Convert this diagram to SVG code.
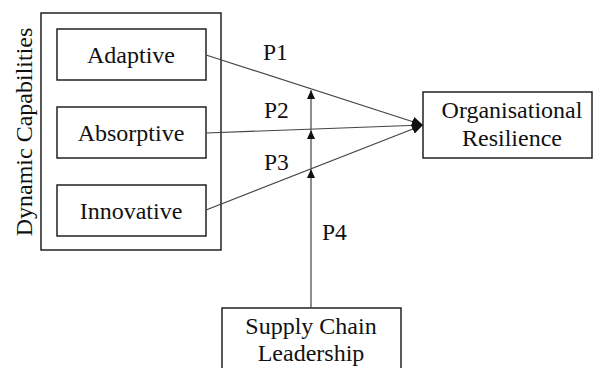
<svg xmlns="http://www.w3.org/2000/svg" width="594" height="368" viewBox="0 0 594 368">
<style>
.box{fill:#fff;stroke:#222;stroke-width:1.5}
.t{font-size:24px;fill:#111;text-anchor:middle}
.lbl{font-size:23.5px;fill:#111}
.ln{stroke:#444;stroke-width:1.2;fill:none}
</style>
<defs>
<marker id="big" markerWidth="12" markerHeight="10" refX="11" refY="5" orient="auto" markerUnits="userSpaceOnUse"><path d="M0,0 L11,5 L0,10 Z" fill="#111"/></marker>
<marker id="small" markerWidth="8" markerHeight="10" refX="9" refY="4" orient="auto" markerUnits="userSpaceOnUse"><path d="M0,0 L9,4 L0,8 Z" fill="#111"/></marker>
</defs>
<rect width="594" height="368" fill="#fff"/>
<g font-family="'Liberation Serif', 'Times New Roman', serif">
<g id="dynamic-capabilities">
<rect class="box" x="41" y="13" width="180" height="237"/>
<text class="t" transform="translate(32,132) rotate(-90)" x="0" y="0" font-size="23.5">Dynamic Capabilities</text>
</g>
<g id="adaptive">
<rect class="box" x="57" y="29" width="149" height="51"/>
<text class="t" x="131" y="63">Adaptive</text>
</g>
<g id="absorptive">
<rect class="box" x="57" y="107" width="149" height="51"/>
<text class="t" x="131" y="141">Absorptive</text>
</g>
<g id="innovative">
<rect class="box" x="57" y="185" width="149" height="51"/>
<text class="t" x="131" y="219">Innovative</text>
</g>
<g id="organisational-resilience">
<rect class="box" x="423" y="92" width="169" height="66"/>
<text class="t" x="512" y="118">Organisational</text>
<text class="t" x="512" y="146">Resilience</text>
</g>
<g id="supply-chain-leadership">
<rect class="box" x="222" y="308" width="179" height="70"/>
<text class="t" x="311" y="334">Supply Chain</text>
<text class="t" x="311" y="361">Leadership</text>
</g>
<g id="connectors">
<line class="ln" x1="206" y1="55" x2="423" y2="125" marker-end="url(#big)"/>
<line class="ln" x1="206" y1="133" x2="423" y2="125" marker-end="url(#big)"/>
<line class="ln" x1="206" y1="210" x2="423" y2="125" marker-end="url(#big)"/>
<line class="ln" x1="311" y1="308" x2="311" y2="169" marker-end="url(#small)"/>
<line class="ln" x1="311" y1="169" x2="311" y2="130" marker-end="url(#small)"/>
<line class="ln" x1="311" y1="130" x2="311" y2="90" marker-end="url(#small)"/>
<text class="lbl" x="263" y="60">P1</text>
<text class="lbl" x="264" y="118">P2</text>
<text class="lbl" x="264" y="170">P3</text>
<text class="lbl" x="322" y="240">P4</text>
</g>
</g>
</svg>
